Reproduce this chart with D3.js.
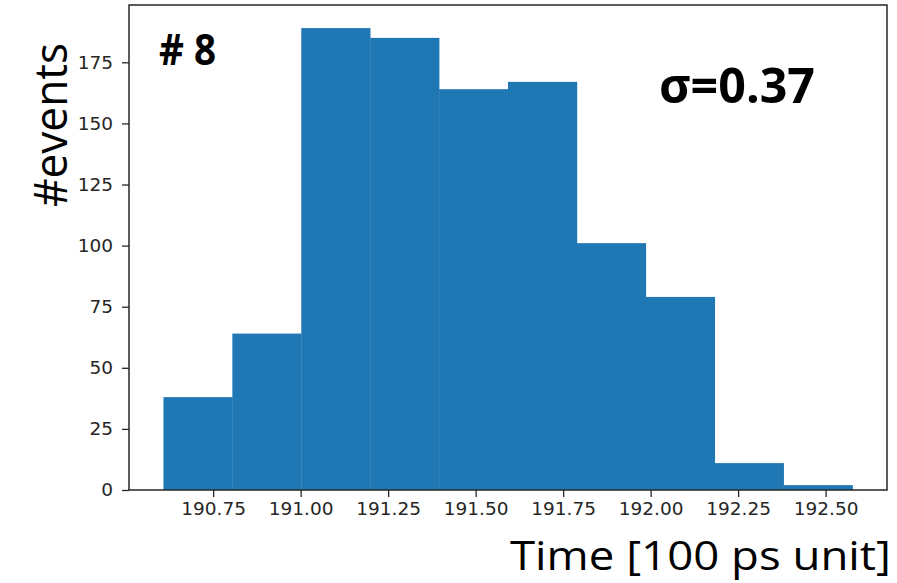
<!DOCTYPE html>
<html>
<head>
<meta charset="utf-8">
<script src="https://cdn.jsdelivr.net/npm/d3@7"></script>
<style>
  body { margin: 0; background: #fff; }
  .axis text { font-family: "DejaVu Sans", sans-serif; font-size: 18.5px; fill: #262626; }
  .axis path, .axis line { stroke: #262626; stroke-width: 1.3; }
</style>
</head>
<body>
<div id="chart"></div>
<script>
// histogram bin edges (100 ps units) and counts per bin
const binStart = 190.608;
const binEnd = 192.577;
const counts = [38, 64, 189, 185, 164, 167, 101, 79, 11, 2];
const xTicks = [190.75, 191.00, 191.25, 191.50, 191.75, 192.00, 192.25, 192.50];
const yTicks = [0, 25, 50, 75, 100, 125, 150, 175];

const width = 897, height = 583;
const margin = { top: 5, right: 10, bottom: 93, left: 129 };

const binW = (binEnd - binStart) / counts.length;
const bins = counts.map((n, i) => ({ x0: binStart + i * binW, x1: binStart + (i + 1) * binW, n: n }));

const pad = (binEnd - binStart) * 0.05;
const xScale = d3.scaleLinear()
  .domain([binStart - pad, binEnd + pad])
  .range([margin.left, width - margin.right]);

const yScale = d3.scaleLinear()
  .domain([0, d3.max(counts) * 1.05])
  .range([height - margin.bottom, margin.top]);

const svg = d3.select("#chart").append("svg")
  .attr("width", width)
  .attr("height", height);

svg.selectAll("rect.bar")
  .data(bins)
  .join("rect")
  .attr("class", "bar")
  .attr("x", d => xScale(d.x0))
  .attr("y", d => yScale(d.n))
  .attr("width", d => xScale(d.x1) - xScale(d.x0) + 0.3)
  .attr("height", d => yScale(0) - yScale(d.n))
  .attr("fill", "#1f77b4");

// frame
svg.append("rect")
  .attr("x", margin.left)
  .attr("y", margin.top)
  .attr("width", width - margin.right - margin.left)
  .attr("height", height - margin.bottom - margin.top)
  .attr("fill", "none")
  .attr("stroke", "#262626")
  .attr("stroke-width", 1.5);

svg.append("g")
  .attr("class", "axis")
  .attr("transform", `translate(0, ${height - margin.bottom})`)
  .call(d3.axisBottom(xScale).tickValues(xTicks).tickFormat(d3.format(".2f")).tickSize(7).tickPadding(5))
  .call(g => g.select(".domain").remove());

svg.append("g")
  .attr("class", "axis")
  .attr("transform", `translate(${margin.left}, 0)`)
  .call(d3.axisLeft(yScale).tickValues(yTicks).tickSize(7).tickPadding(9))
  .call(g => g.select(".domain").remove());

// labels
svg.append("text")
  .attr("transform", "translate(67, 125) rotate(-90)")
  .attr("text-anchor", "middle")
  .attr("font-family", "'Open Sans', sans-serif")
  .attr("font-size", 45)
  .attr("textLength", 164)
  .attr("lengthAdjust", "spacingAndGlyphs")
  .text("#events");

svg.append("text")
  .attr("x", 510)
  .attr("y", 570)
  .attr("font-family", "'Open Sans', sans-serif")
  .attr("font-size", 41)
  .attr("textLength", 381)
  .attr("lengthAdjust", "spacingAndGlyphs")
  .text("Time [100 ps unit]");

svg.append("text")
  .attr("x", 159)
  .attr("y", 65)
  .attr("font-family", "'Open Sans', sans-serif")
  .attr("font-weight", "bold")
  .attr("font-size", 43)
  .attr("textLength", 57)
  .attr("lengthAdjust", "spacingAndGlyphs")
  .text("# 8");

svg.append("text")
  .attr("x", 659)
  .attr("y", 103)
  .attr("font-family", "'Open Sans', sans-serif")
  .attr("font-weight", "bold")
  .attr("font-size", 48)
  .attr("textLength", 156)
  .attr("lengthAdjust", "spacingAndGlyphs")
  .text("σ=0.37");
</script>
</body>
</html>
